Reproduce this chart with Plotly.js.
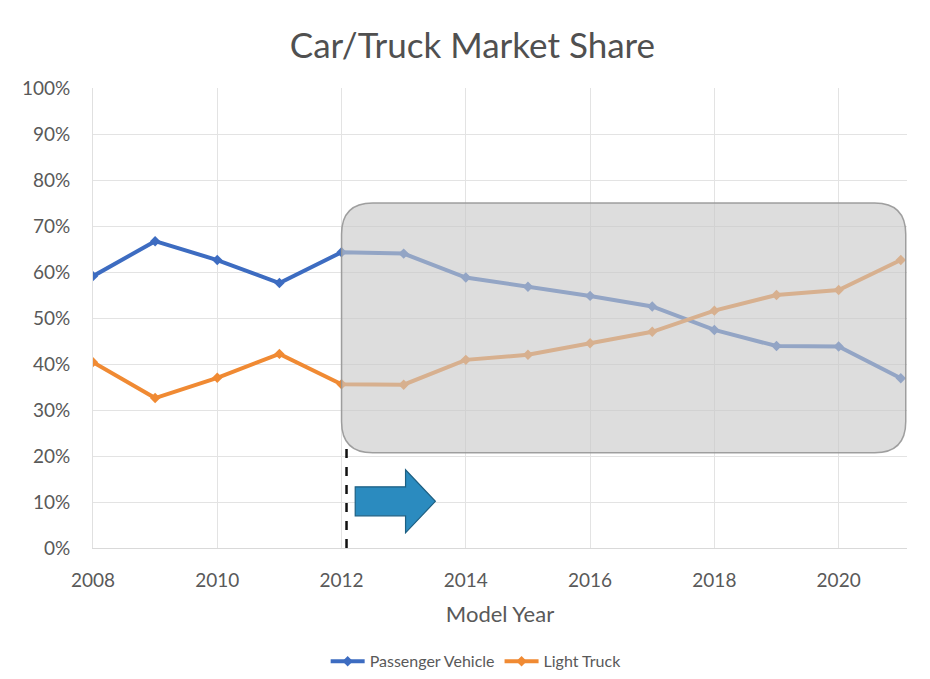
<!DOCTYPE html>
<html>
<head>
<meta charset="utf-8">
<script src="https://cdn.plot.ly/plotly-3.0.1.min.js"></script>
<style>html,body{margin:0;padding:0;background:#fff;}#chart{width:930px;height:679px;}</style>
</head>
<body>
<div id="chart"></div>
<script>
const years = [2008, 2009, 2010, 2011, 2012, 2013, 2014, 2015, 2016, 2017, 2018, 2019, 2020, 2021];
const passengerVehicle = [0.591, 0.667, 0.626, 0.576, 0.643, 0.640, 0.588, 0.568, 0.548, 0.525, 0.474, 0.439, 0.438, 0.369];
const lightTruck = [0.404, 0.326, 0.370, 0.422, 0.356, 0.355, 0.409, 0.420, 0.445, 0.470, 0.516, 0.550, 0.561, 0.626];
const yTicks = [0, 0.1, 0.2, 0.3, 0.4, 0.5, 0.6, 0.7, 0.8, 0.9, 1.0];
const yTickLabels = ['0%', '10%', '20%', '30%', '40%', '50%', '60%', '70%', '80%', '90%', '100%'];
const xTicks = [2008, 2010, 2012, 2014, 2016, 2018, 2020];

// rounded highlight box (data coords)
const bx0 = 2012.0, bx1 = 2021.08, by0 = 0.207, by1 = 0.75, rx = 0.5, ry = 0.068;
const boxPath = `M ${bx0 + rx},${by1} L ${bx1 - rx},${by1} Q ${bx1},${by1} ${bx1},${by1 - ry} ` +
  `L ${bx1},${by0 + ry} Q ${bx1},${by0} ${bx1 - rx},${by0} L ${bx0 + rx},${by0} ` +
  `Q ${bx0},${by0} ${bx0},${by0 + ry} L ${bx0},${by1 - ry} Q ${bx0},${by1} ${bx0 + rx},${by1} Z`;

// block arrow
const ax0 = 2012.22, axNeck = 2013.03, axTip = 2013.51;
const aBodyTop = 0.133, aBodyBot = 0.070, aHeadTop = 0.170, aHeadBot = 0.033, aMid = 0.1015;
const arrowPath = `M ${ax0},${aBodyBot} L ${ax0},${aBodyTop} L ${axNeck},${aBodyTop} L ${axNeck},${aHeadTop} ` +
  `L ${axTip},${aMid} L ${axNeck},${aHeadBot} L ${axNeck},${aBodyBot} Z`;

const traces = [
  {x: years, y: passengerVehicle, name: 'Passenger Vehicle', type: 'scatter', mode: 'lines+markers',
   line: {color: '#3d6cc1', width: 4}, marker: {color: '#3d6cc1', size: 8, symbol: 'diamond'}},
  {x: years, y: lightTruck, name: 'Light Truck', type: 'scatter', mode: 'lines+markers',
   line: {color: '#f08a33', width: 4}, marker: {color: '#f08a33', size: 8, symbol: 'diamond'}}
];

const layout = {
  width: 930, height: 679,
  paper_bgcolor: '#ffffff', plot_bgcolor: '#ffffff',
  margin: {l: 93, r: 23, t: 88, b: 131},
  font: {family: 'Lato, "Open Sans", sans-serif', color: '#595959'},
  title: {text: 'Car/Truck Market Share', x: 0.508, xanchor: 'center', y: 0.933, yanchor: 'middle',
          font: {size: 35, color: '#505050', family: 'Lato, "Open Sans", sans-serif'}},
  xaxis: {range: [2008, 2021.1], tickvals: xTicks, ticktext: xTicks.map(String), automargin: false,
          showgrid: true, gridcolor: '#e3e3e3', gridwidth: 1, zeroline: false,
          showline: true, linecolor: '#d9d9d9', ticks: 'outside', ticklen: 15, tickcolor: 'rgba(0,0,0,0)',
          tickfont: {size: 19, color: '#595959'},
          title: {text: 'Model Year', font: {size: 22, color: '#595959'}, standoff: 16}},
  yaxis: {range: [0, 1.0], tickvals: yTicks, ticktext: yTickLabels, automargin: false,
          showgrid: true, gridcolor: '#e3e3e3', gridwidth: 1, zeroline: false,
          showline: true, linecolor: '#e0e0e0', ticks: 'outside', ticklen: 18, tickcolor: 'rgba(0,0,0,0)',
          tickfont: {size: 19, color: '#595959'}},
  showlegend: true,
  legend: {orientation: 'h', x: 0.512, xref: 'container', xanchor: 'center', y: 0.026, yref: 'container', yanchor: 'middle',
           font: {size: 16, color: '#595959'}, itemwidth: 34},
  shapes: [
    {type: 'path', path: boxPath, xref: 'x', yref: 'y', layer: 'above',
     fillcolor: 'rgba(200,200,200,0.62)', line: {color: 'rgba(150,150,150,0.9)', width: 1.5}},
    {type: 'line', xref: 'x', yref: 'y', x0: 2012.08, x1: 2012.08, y0: 0, y1: 0.215, layer: 'above',
     line: {color: '#111111', width: 2.5, dash: 'dash'}},
    {type: 'path', path: arrowPath, xref: 'x', yref: 'y', layer: 'above',
     fillcolor: '#2b8bbf', line: {color: '#1d5f82', width: 1.2}}
  ]
};

Plotly.newPlot('chart', traces, layout, {displayModeBar: false, staticPlot: true});
</script>
</body>
</html>
